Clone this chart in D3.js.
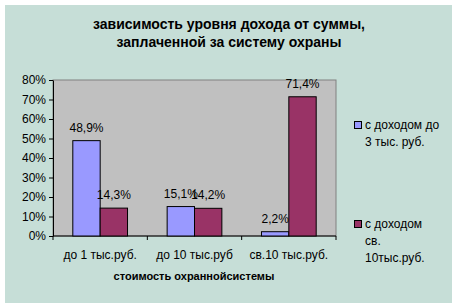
<!DOCTYPE html>
<html>
<head>
<meta charset="utf-8">
<script src="https://cdn.jsdelivr.net/npm/d3@7"></script>
<style>
  body { margin: 0; background: #fff; }
  svg { display: block; font-family: Arial, "Liberation Sans", sans-serif; }
</style>
</head>
<body>
<div id="chart"></div>
<script>
var categories = ["до 1 тыс.руб.", "до 10 тыс.руб", "св.10 тыс.руб."];
var seriesNames = [["с доходом до", "3 тыс. руб."], ["с доходом", "св.", "10тыс.руб."]];
var lowIncome = [48.9, 15.1, 2.2];
var highIncome = [14.3, 14.2, 71.4];
var yTicks = [0, 10, 20, 30, 40, 50, 60, 70, 80];
var colors = ["#9999FF", "#993366"];

var width = 457, height = 307;
var margin = {top: 80, left: 53, right: 121, bottom: 71};

var svg = d3.select("#chart").append("svg")
    .attr("width", width)
    .attr("height", height);

// chart area background
svg.append("rect")
    .attr("x", 5).attr("y", 5)
    .attr("width", 447).attr("height", 298)
    .attr("fill", "#C6DED7");

// title
var title = svg.append("text")
    .attr("text-anchor", "middle")
    .attr("font-size", "14px")
    .attr("font-weight", "bold")
    .attr("fill", "#000");
title.append("tspan").attr("x", 229).attr("y", 29).text("зависимость уровня дохода от суммы,");
title.append("tspan").attr("x", 229).attr("y", 47).text("заплаченной за систему охраны");

var x0 = d3.scaleBand()
    .domain(categories)
    .range([margin.left, width - margin.right])
    .paddingInner(0.42)
    .paddingOuter(0.21);

var x1 = d3.scaleBand()
    .domain([0, 1])
    .range([0, x0.bandwidth()]);

var y = d3.scaleLinear()
    .domain([0, 80])
    .range([height - margin.bottom, margin.top]);

// plot area
svg.append("rect")
    .attr("x", margin.left)
    .attr("y", margin.top)
    .attr("width", width - margin.right - margin.left)
    .attr("height", height - margin.bottom - margin.top)
    .attr("fill", "#C0C0C0")
    .attr("stroke", "#808080")
    .attr("stroke-width", 1);

// y axis
var yAxis = svg.append("g")
    .attr("transform", "translate(" + margin.left + ",0)")
    .call(d3.axisLeft(y).tickValues(yTicks).tickSize(4).tickSizeOuter(0)
        .tickFormat(function (d) { return d + "%"; }));
yAxis.selectAll("text").attr("font-size", "12px").attr("fill", "#000")
    .attr("font-family", "Arial, 'Liberation Sans', sans-serif");
yAxis.selectAll("line, path").attr("stroke", "#000");

// x axis with ticks between categories
var xAxis = svg.append("g")
    .attr("transform", "translate(0," + (height - margin.bottom) + ")");
xAxis.append("line")
    .attr("x1", margin.left).attr("x2", width - margin.right)
    .attr("stroke", "#000");
var step = (width - margin.right - margin.left) / categories.length;
d3.range(categories.length + 1).forEach(function (i) {
    xAxis.append("line")
        .attr("x1", margin.left + i * step).attr("x2", margin.left + i * step)
        .attr("y1", 0).attr("y2", 4)
        .attr("stroke", "#000");
});
xAxis.selectAll(".lbl")
    .data(categories)
    .enter()
    .append("text")
    .attr("x", function (d) { return x0(d) + x0.bandwidth() / 2; })
    .attr("y", 23)
    .attr("text-anchor", "middle")
    .attr("font-size", "12px")
    .text(function (d) { return d; });

svg.append("text")
    .attr("x", 194)
    .attr("y", 280)
    .attr("text-anchor", "middle")
    .attr("font-size", "11px")
    .attr("font-weight", "bold")
    .text("стоимость  охраннойсистемы");

// bars
var series = [lowIncome, highIncome];
series.forEach(function (vals, s) {
    var g = svg.append("g");
    g.selectAll("rect")
        .data(vals)
        .enter()
        .append("rect")
        .attr("x", function (d, i) { return x0(categories[i]) + x1(s); })
        .attr("y", function (d) { return y(d); })
        .attr("width", x1.bandwidth())
        .attr("height", function (d) { return y(0) - y(d); })
        .attr("fill", colors[s])
        .attr("stroke", "#000")
        .attr("stroke-width", 1);
    g.selectAll("text")
        .data(vals)
        .enter()
        .append("text")
        .attr("x", function (d, i) { return x0(categories[i]) + x1(s) + x1.bandwidth() / 2; })
        .attr("y", function (d) { return y(d) - 9; })
        .attr("text-anchor", "middle")
        .attr("font-size", "12px")
        .text(function (d) { return d.toFixed(1).replace(".", ",") + "%"; });
});

// legend
var legendY = [125, 224];
seriesNames.forEach(function (lines, s) {
    svg.append("rect")
        .attr("x", 354.5).attr("y", legendY[s] - 3.5)
        .attr("width", 7).attr("height", 7)
        .attr("fill", colors[s])
        .attr("stroke", "#000");
    var t = svg.append("text").attr("font-size", "12px");
    lines.forEach(function (ln, k) {
        t.append("tspan")
            .attr("x", 365)
            .attr("y", legendY[s] + 4 + k * 17)
            .text(ln);
    });
});
</script>
</body>
</html>
